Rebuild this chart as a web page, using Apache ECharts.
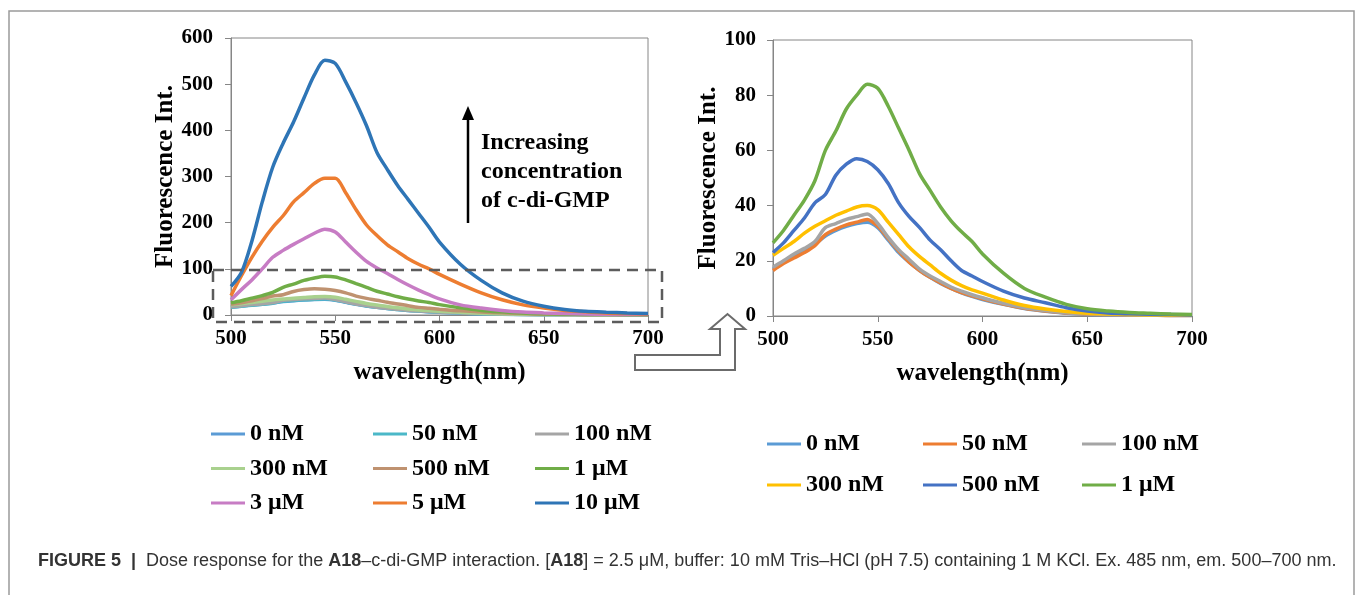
<!DOCTYPE html>
<html><head><meta charset="utf-8">
<script src="https://cdn.jsdelivr.net/npm/echarts@6/dist/echarts.min.js"></script>
<style>html,body{margin:0;padding:0;background:#fff}#c{width:1357px;height:595px}</style>
</head><body><div id="c"></div>
<script>
// wavelength grid (nm)
const wavelengths = [500,505,510,515,520,525,530,535,540,545,550,555,560,565,570,575,580,585,590,595,600,610,620,630,640,650,660,670,680,690,700];
// fluorescence intensities
const conc_0nM   = [17,19.5,21.5,23.5,26,29,31,32.5,33.5,34,32,27.5,23,19.5,16.5,14,11.8,10,8.4,7.1,6,4.2,2.7,1.7,1,0.6,0.4,0.3,0.3,0.2,0.2];
const conc_50nM  = [16.5,19,21,23,25.5,29.5,31.5,33,34,35,32.5,28,23.5,19.5,16.5,14,12,10,8.5,7.3,6.2,4.3,2.8,1.8,1.1,0.7,0.5,0.4,0.3,0.2,0.2];
const conc_100nM = [17.7,20,22.5,24.5,27,32,33.5,35,36,37,33.5,28.5,24,20.5,17,14.5,12.5,10.5,9,7.7,6.6,4.6,3,2,1.2,0.8,0.5,0.4,0.3,0.3,0.3];
const conc_300nM = [22,24.5,27,30,32.5,34.5,36.5,38,39.5,40,38.5,34,29.5,25,21.5,18.5,15.5,13,11,9.5,8.3,5.8,3.8,2.5,1.6,1,0.7,0.5,0.4,0.3,0.3];
const conc_500nM = [23,26.5,31,35.5,41,44,51,55,57,56,53,48,41,36,32,27.5,24,20,16.5,14.5,12.5,9,6.5,4.8,3,1.8,1.1,0.8,0.6,0.5,0.4];
const conc_1uM   = [26.5,31,36.5,42,49,60,67,75,80,84,82.5,76,68,60,51.5,45.5,39.5,34.5,30.5,27,22.5,15.5,10,6.8,4.2,2.6,1.8,1.3,1,0.7,0.5];
const conc_3uM   = [33,55,76,100,125,140,153,165,177,186,180,158,136,116,102,90,77,65,54,44,35,22,15,10,6.5,4.5,3,2,1.5,1.2,1];
const conc_5uM   = [42,85,125,160,190,215,245,265,285,296,296,265,228,195,172,152,137,122,110,100,88,67,48,33,22,15,10,7,4.5,3,2];
const conc_10uM  = [62,92,160,245,320,372,418,470,520,552,545,505,460,410,352,315,280,250,220,190,158,110,75,48,30,19,12,8,6,4.5,3.5];

const leftNames  = ['0 nM','50 nM','100 nM','300 nM','500 nM','1 μM','3 μM','5 μM','10 μM'];
const leftData   = [conc_0nM,conc_50nM,conc_100nM,conc_300nM,conc_500nM,conc_1uM,conc_3uM,conc_5uM,conc_10uM];
const leftColors = ['#5B9BD5','#4BB8C8','#A5A5A5','#A9D18E','#BF9270','#70AD47','#C77CC4','#ED7D31','#2E75B6'];
const rightNames  = ['0 nM','50 nM','100 nM','300 nM','500 nM','1 μM'];
const rightData   = [conc_0nM,conc_50nM,conc_100nM,conc_300nM,conc_500nM,conc_1uM];
const rightColors = ['#5B9BD5','#ED7D31','#A5A5A5','#FFC000','#4472C4','#70AD47'];
const leftYTicks = {min:0,max:600,interval:100};
const rightYTicks = {min:0,max:100,interval:20};
const xTicks = {min:500,max:700,interval:50};

const SERIF = 'Liberation Serif';
const axisCol = '#868686';
function xAx(gi){
  return {gridIndex:gi,type:'value',min:xTicks.min,max:xTicks.max,interval:xTicks.interval,
    axisLine:{show:true,onZero:false,lineStyle:{color:axisCol,width:1}},
    axisTick:{show:true,inside:false,length:6,lineStyle:{color:axisCol}},
    splitLine:{show:false},
    axisLabel:{color:'#000',fontFamily:SERIF,fontWeight:'bold',fontSize:21,margin:13},
    name:'wavelength(nm)',nameLocation:'middle',nameGap:45,
    nameTextStyle:{color:'#000',fontFamily:SERIF,fontWeight:'bold',fontSize:25}};
}
function yAx(gi,t,gap,margin){
  return {gridIndex:gi,type:'value',min:t.min,max:t.max,interval:t.interval,
    axisLine:{show:true,lineStyle:{color:axisCol,width:1}},
    axisTick:{show:true,inside:false,length:6,lineStyle:{color:axisCol}},
    splitLine:{show:false},
    axisLabel:{color:'#000',fontFamily:SERIF,fontWeight:'bold',fontSize:21,margin:margin},
    name:'Fluorescence Int.',nameLocation:'middle',nameGap:gap,
    nameTextStyle:{color:'#000',fontFamily:SERIF,fontWeight:'bold',fontSize:25}};
}
const series = [];
leftNames.forEach((n,i)=>series.push({name:'L:'+n,type:'line',xAxisIndex:0,yAxisIndex:0,symbol:'none',smooth:0.3,
  color:leftColors[i],lineStyle:{width:3.5,color:leftColors[i]},animation:false,
  data:wavelengths.map((w,k)=>[w,leftData[i][k]])}));
rightNames.forEach((n,i)=>series.push({name:'R:'+n,type:'line',xAxisIndex:1,yAxisIndex:1,symbol:'none',smooth:0.3,
  color:rightColors[i],lineStyle:{width:3.5,color:rightColors[i]},animation:false,
  data:wavelengths.map((w,k)=>[w,rightData[i][k]])}));

function legend(names,prefix,left,top,gap){
  return {orient:'vertical',left:left,top:top,padding:0,itemGap:gap,icon:'rect',itemWidth:34,itemHeight:3,
    data:names.map(n=>prefix+n),formatter:n=>n.slice(2),selectedMode:false,
    textStyle:{color:'#000',fontFamily:SERIF,fontWeight:'bold',fontSize:24,lineHeight:22}};
}
const legends = [
  legend([leftNames[0],leftNames[3],leftNames[6]],'L:',211,422,10.5),
  legend([leftNames[1],leftNames[4],leftNames[7]],'L:',373,422,10.5),
  legend([leftNames[2],leftNames[5],leftNames[8]],'L:',535,422,10.5),
  legend([rightNames[0],rightNames[3]],'R:',767,432,17),
  legend([rightNames[1],rightNames[4]],'R:',923,432,17),
  legend([rightNames[2],rightNames[5]],'R:',1082,432,17)
];

const chart = echarts.init(document.getElementById('c'),null,{renderer:'canvas'});
chart.setOption({
  backgroundColor:'#fff',animation:false,
  grid:[{left:231,top:38,width:417,height:277,show:true,borderColor:axisCol,borderWidth:1,backgroundColor:'transparent'},
        {left:773,top:40,width:419,height:276,show:true,borderColor:axisCol,borderWidth:1,backgroundColor:'transparent'}],
  xAxis:[xAx(0),xAx(1)],
  yAxis:[yAx(0,leftYTicks,52,18),yAx(1,rightYTicks,45,17)],
  legend:legends,
  series:series,
  graphic:[
    {type:'polyline',shape:{points:[[9,600],[9,11],[1354,11],[1354,600]]},style:{stroke:'#9a9a9a',lineWidth:1.5,fill:null},silent:true},
    {type:'rect',shape:{x:213,y:270,width:449,height:52},style:{stroke:'#5c5c5c',lineWidth:2.5,lineDash:[11,7],fill:null},z:10},
    {type:'polygon',shape:{points:[[635,355],[720,355],[720,329],[710,329],[727.5,314],[745,329],[735,329],[735,370],[635,370]]},
      style:{stroke:'#6b6b6b',lineWidth:2,fill:'#fff'},z:10},
    {type:'line',shape:{x1:468,y1:223,x2:468,y2:118},style:{stroke:'#000',lineWidth:2.5},z:10},
    {type:'polygon',shape:{points:[[462,120],[468,106],[474,120]]},style:{fill:'#000'},z:10},
    {type:'text',left:481,top:128,z:10,style:{text:'Increasing\nconcentration\nof c-di-GMP',fill:'#000',
      font:'bold 24px "Liberation Serif"',lineHeight:29}},
    {type:'text',left:38,top:552,z:10,style:{
      text:'{b|FIGURE 5  |}{n|  Dose response for the }{b|A18}{n|–c-di-GMP interaction. [}{b|A18}{n|] = 2.5 μM, buffer: 10 mM Tris–HCl (pH 7.5) containing 1 M KCl. Ex. 485 nm, em. 500–700 nm.}',
      rich:{b:{fontFamily:'Liberation Sans',fontWeight:'bold',fontSize:18,fill:'#333'},
            n:{fontFamily:'Liberation Sans',fontSize:18,fill:'#333'}}}}
  ]
});
</script></body></html>
